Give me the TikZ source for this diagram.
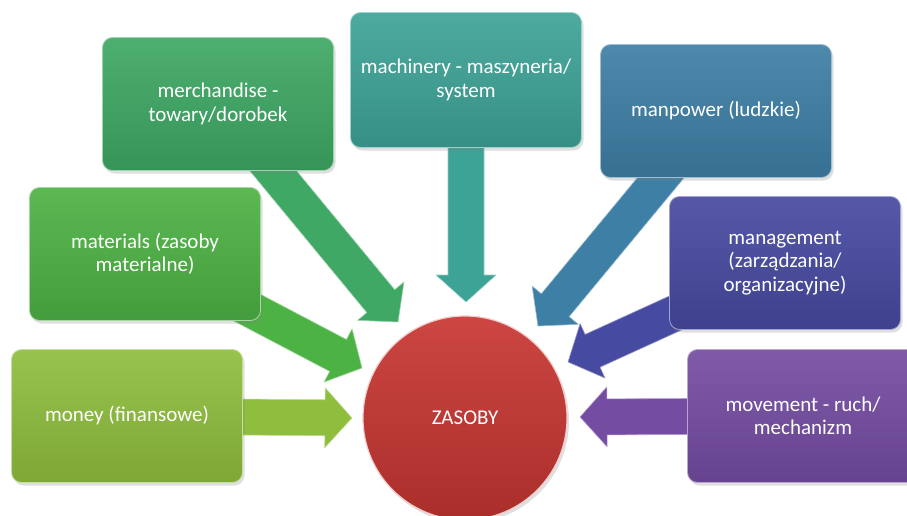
\documentclass[tikz,border=0pt]{standalone}
\usepackage{fontspec}
\setmainfont{Carlito}
\usetikzlibrary{shapes,positioning,calc,backgrounds,shadows}
\definecolor{moneyc}{RGB}{143,190,62}
\definecolor{materialc}{RGB}{77,178,68}
\definecolor{merchc}{RGB}{62,168,100}
\definecolor{machc}{RGB}{62,163,151}
\definecolor{manc}{RGB}{62,127,165}
\definecolor{mgmtc}{RGB}{70,74,160}
\definecolor{movec}{RGB}{116,76,162}
\definecolor{hubc}{RGB}{200,54,50}
\tikzstyle{res} = [rectangle, rounded corners=10pt, minimum width=231pt, minimum height=133pt, text=white, align=center, font=\fontsize{21}{23.5}\selectfont, line width=0.8pt, drop shadow={opacity=0.25, shadow xshift=2pt, shadow yshift=-3pt}]
\tikzstyle{hub} = [circle, minimum size=204pt, text=white, font=\fontsize{21}{23.5}\selectfont, draw=white!75!hubc, line width=1.2pt, top color=hubc!92!white, bottom color=hubc!85!black, drop shadow={opacity=0.25, shadow xshift=2pt, shadow yshift=-3pt}]
\tikzstyle{bar} = [line width=0.6pt, line join=round]

% block arrow from #1 (node) to #2 (tip coordinate), colour #3
\newcommand{\blockarrow}[3]{%
  \coordinate (#2-hb) at ($(#2)!27pt!(#1)$);
  \path[bar, fill=#3, draw=#3!55!white]
    ($(#1)!18pt!90:(#2)$) -- ($(#2-hb)!18pt!90:(#2)$) -- ($(#2-hb)!30pt!90:(#2)$)
    -- (#2) -- ($(#2-hb)!30pt!-90:(#2)$) -- ($(#2-hb)!18pt!-90:(#2)$)
    -- ($(#1)!18pt!-90:(#2)$) -- cycle;
}

\begin{document}
\begin{tikzpicture}[x=1pt, y=-1pt]
\useasboundingbox (0,0) rectangle (907,516);
\clip (0,0) rectangle (907,516);

% resources ==============================
\node[res, top color=moneyc!92!white, bottom color=moneyc!88!black, draw=moneyc!50!white] (money) at (127,416) {money (finansowe)};
\node[res, top color=materialc!92!white, bottom color=materialc!88!black, draw=materialc!50!white] (materials) at (145,254) {materials (zasoby\\materialne)};
\node[res, top color=merchc!92!white, bottom color=merchc!88!black, draw=merchc!50!white] (merch) at (218,104) {merchandise -\\towary/dorobek};
\node[res, top color=machc!92!white, bottom color=machc!88!black, draw=machc!50!white, minimum height=135pt] (mach) at (466,80) {machinery - maszyneria/\\system};
\node[res, top color=manc!92!white, bottom color=manc!88!black, draw=manc!50!white] (manpower) at (716,111) {manpower (ludzkie)};
\node[res, top color=mgmtc!92!white, bottom color=mgmtc!88!black, draw=mgmtc!50!white] (mgmt) at (785,263) {management\\(zarządzania/\\organizacyjne)};
\node[res, top color=movec!92!white, bottom color=movec!88!black, draw=movec!50!white] (move) at (803,416) {movement - ruch/\\mechanizm};

% centre
\node[hub] (zasoby) at (465,418) {ZASOBY};

% arrow tips
\coordinate (tmoney) at (352,418);
\coordinate (tmat) at (362,368);
\coordinate (tmerch) at (398,322);
\coordinate (tmach) at (466,302);
\coordinate (tman) at (538,326);
\coordinate (tmgmt) at (568,362);
\coordinate (tmove) at (580,417);

% edges
\begin{scope}[on background layer]
\blockarrow{money.center}{tmoney}{moneyc}
\blockarrow{materials.center}{tmat}{materialc}
\blockarrow{merch.center}{tmerch}{merchc}
\blockarrow{mach.center}{tmach}{machc}
\blockarrow{manpower.center}{tman}{manc}
\blockarrow{mgmt.center}{tmgmt}{mgmtc}
\blockarrow{move.center}{tmove}{movec}
\end{scope}

\end{tikzpicture}
\end{document}
